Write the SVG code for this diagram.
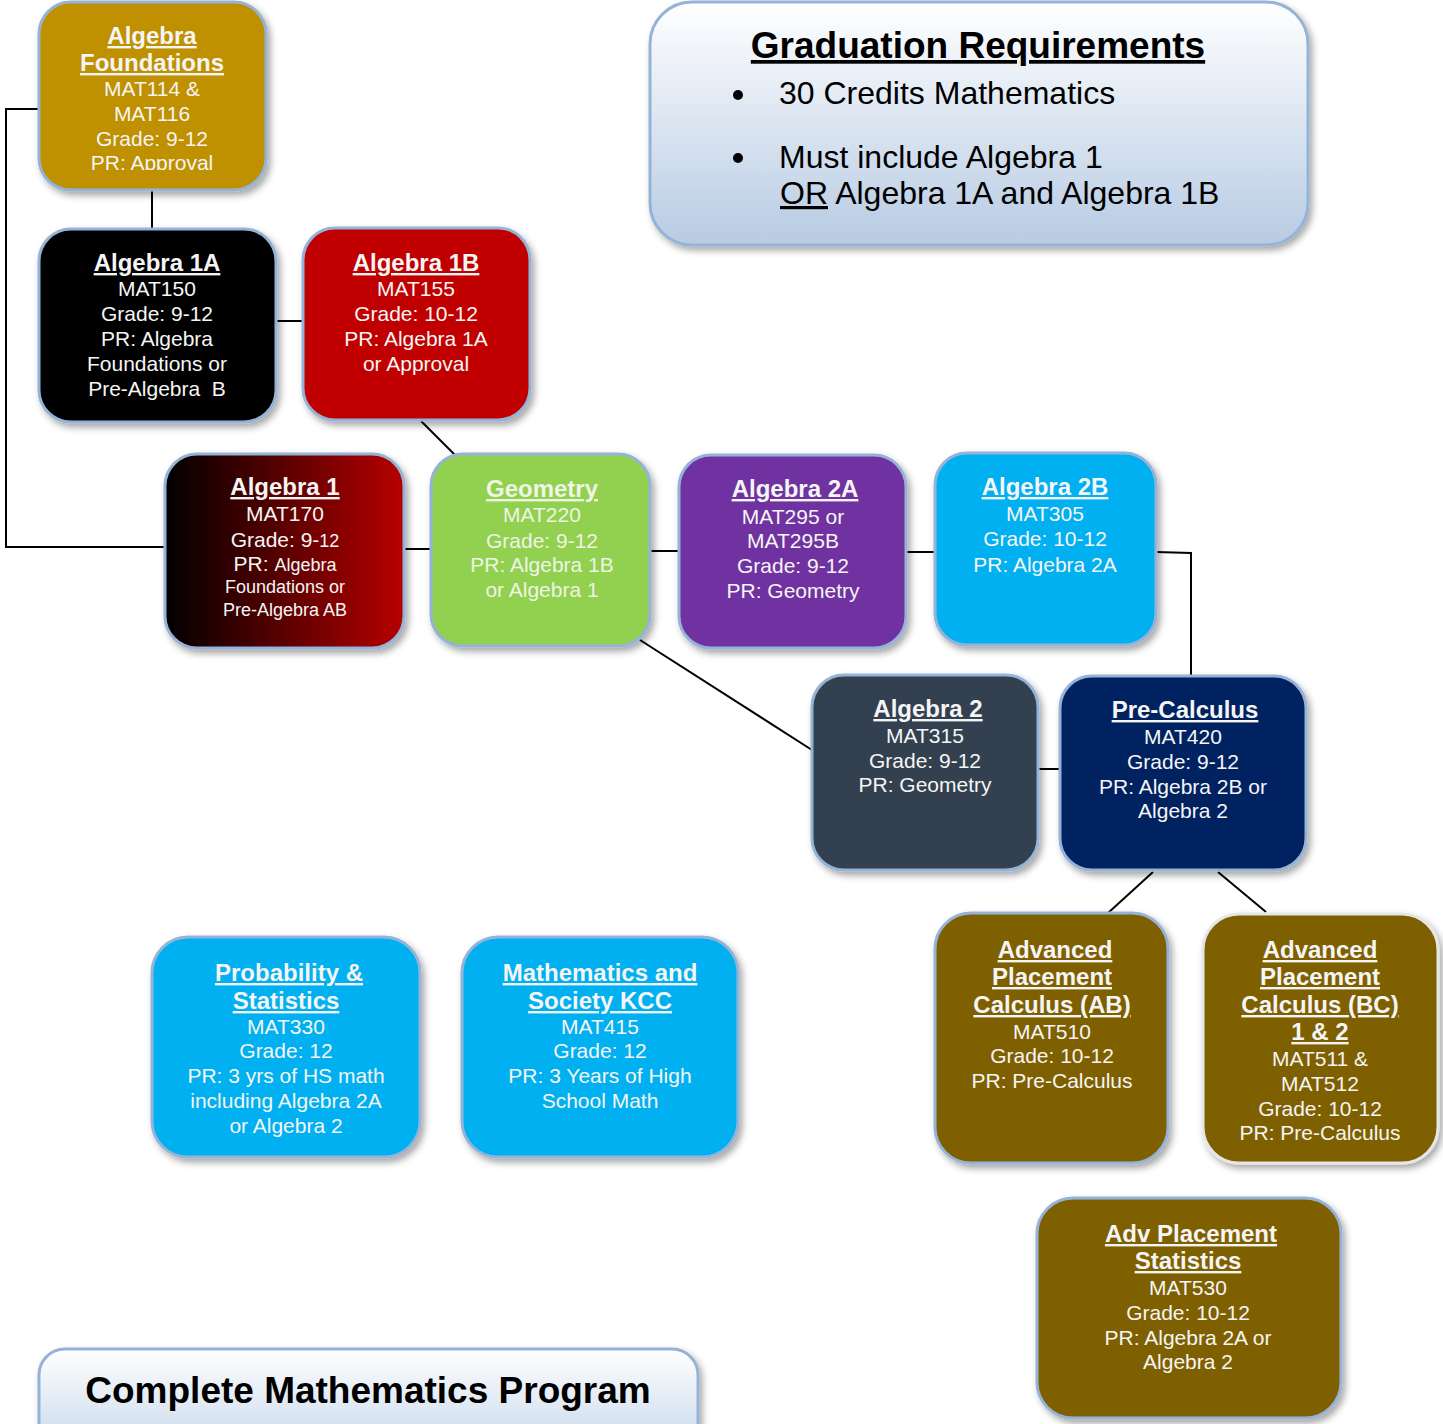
<svg xmlns="http://www.w3.org/2000/svg" width="1443" height="1424" viewBox="0 0 1443 1424">
<defs>
<filter id="sh" x="-10%" y="-10%" width="125%" height="130%">
<feDropShadow dx="3" dy="4" stdDeviation="3.5" flood-color="#000" flood-opacity="0.35"/>
</filter>
<linearGradient id="g1" x1="0" y1="0" x2="1" y2="0">
<stop offset="0" stop-color="#000000"/>
<stop offset="1" stop-color="#B70000"/>
</linearGradient>
<linearGradient id="gr" x1="0" y1="0" x2="0" y2="1">
<stop offset="0" stop-color="#FFFFFF"/>
<stop offset="1" stop-color="#B7CBE3"/>
</linearGradient>
<linearGradient id="gc" x1="0" y1="0" x2="0" y2="1">
<stop offset="0" stop-color="#FFFFFF"/>
<stop offset="1" stop-color="#C3D4E9"/>
</linearGradient>
<clipPath id="afclip"><rect x="39" y="0" width="228" height="170"/></clipPath>
<style>
.box{stroke:#95B3D7;stroke-width:3;filter:url(#sh)}
.t{font-family:"Liberation Sans",Arial,sans-serif;font-weight:bold;font-size:24px;fill:#F5F5F5;text-anchor:middle;text-decoration:underline}
.b{font-family:"Liberation Sans",Arial,sans-serif;font-size:21px;fill:#F5F5F5;text-anchor:middle}
.s{font-size:18px}
.geo{fill:#EEF5E4}
.con{stroke:#000;stroke-width:2;fill:none}
.k{font-family:"Liberation Sans",Arial,sans-serif;fill:#000}
</style>
</defs>

<g id="connectors">
<polyline class="con" points="39,109 6,109 6,547 165,547"/>
<line class="con" x1="152" y1="190" x2="152" y2="229"/>
<line class="con" x1="276" y1="321" x2="303" y2="321"/>
<line class="con" x1="421" y1="421" x2="455" y2="455"/>
<line class="con" x1="404" y1="549" x2="431" y2="549"/>
<line class="con" x1="650" y1="551" x2="679" y2="551"/>
<line class="con" x1="640" y1="640" x2="812" y2="750"/>
<line class="con" x1="906" y1="552" x2="935" y2="552"/>
<polyline class="con" points="1156,552 1191,553 1191,676"/>
<line class="con" x1="1038" y1="769" x2="1060" y2="769"/>
<line class="con" x1="1153" y1="872" x2="1108" y2="913"/>
<line class="con" x1="1218" y1="872" x2="1266" y2="912"/>
</g>

<g id="grad-req">
<rect class="box" x="650" y="2" width="658" height="243" rx="42" fill="url(#gr)"/>
<text class="k" x="978" y="58" font-size="37" font-weight="bold" text-anchor="middle" text-decoration="underline">Graduation Requirements</text>
<circle cx="738" cy="95" r="5" fill="#000"/>
<text class="k" x="779" y="104" font-size="32">30 Credits Mathematics</text>
<circle cx="738" cy="158" r="5" fill="#000"/>
<text class="k" x="779" y="168" font-size="32">Must include Algebra 1</text>
<text class="k" x="780" y="204" font-size="32"><tspan text-decoration="underline">OR</tspan> Algebra 1A and Algebra 1B</text>
</g>

<g id="algebra-foundations">
<rect class="box" x="39" y="2" width="227" height="188" rx="32" fill="#BF9000"/>
<g clip-path="url(#afclip)">
<text class="t" x="152" y="44">Algebra</text>
<text class="t" x="152" y="71">Foundations</text>
<text class="b" x="152" y="96">MAT114 &amp;</text>
<text class="b" x="152" y="121">MAT116</text>
<text class="b" x="152" y="146">Grade: 9-12</text>
<text class="b" x="152" y="170">PR: Approval</text>
</g>
</g>

<g id="algebra-1a">
<rect class="box" x="39" y="229" width="237" height="193" rx="32" fill="#000000"/>
<text class="t" x="157" y="271">Algebra 1A</text>
<text class="b" x="157" y="296">MAT150</text>
<text class="b" x="157" y="321">Grade: 9-12</text>
<text class="b" x="157" y="346">PR: Algebra</text>
<text class="b" x="157" y="371">Foundations or</text>
<text class="b" x="157" y="396" xml:space="preserve">Pre-Algebra  B</text>
</g>

<g id="algebra-1b">
<rect class="box" x="303" y="228" width="227" height="192" rx="32" fill="#C00000"/>
<text class="t" x="416" y="271">Algebra 1B</text>
<text class="b" x="416" y="296">MAT155</text>
<text class="b" x="416" y="321">Grade: 10-12</text>
<text class="b" x="416" y="346">PR: Algebra 1A</text>
<text class="b" x="416" y="371">or Approval</text>
</g>

<g id="algebra-1">
<rect class="box" x="165" y="454" width="239" height="194" rx="32" fill="url(#g1)"/>
<text class="t" x="285" y="495">Algebra 1</text>
<text class="b" x="285" y="521">MAT170</text>
<text class="b" x="285" y="547">Grade: 9-<tspan class="s">12</tspan></text>
<text class="b" x="285" y="571">PR: <tspan class="s">Algebra</tspan></text>
<text class="b s" x="285" y="593">Foundations or</text>
<text class="b s" x="285" y="616">Pre-Algebra AB</text>
</g>

<g id="geometry">
<rect class="box" x="431" y="454" width="219" height="192" rx="32" fill="#92D050"/>
<text class="t geo" x="542" y="497">Geometry</text>
<text class="b geo" x="542" y="522">MAT220</text>
<text class="b geo" x="542" y="548">Grade: 9-12</text>
<text class="b geo" x="542" y="572">PR: Algebra 1B</text>
<text class="b geo" x="542" y="597">or Algebra 1</text>
</g>

<g id="algebra-2a">
<rect class="box" x="679" y="455" width="227" height="193" rx="32" fill="#7030A0"/>
<text class="t" x="795" y="497">Algebra 2A</text>
<text class="b" x="793" y="524">MAT295 or</text>
<text class="b" x="793" y="548">MAT295B</text>
<text class="b" x="793" y="573">Grade: 9-12</text>
<text class="b" x="793" y="598">PR: Geometry</text>
</g>

<g id="algebra-2b">
<rect class="box" x="935" y="453" width="221" height="192" rx="32" fill="#00B0F0"/>
<text class="t" x="1045" y="495">Algebra 2B</text>
<text class="b" x="1045" y="521">MAT305</text>
<text class="b" x="1045" y="546">Grade: 10-12</text>
<text class="b" x="1045" y="572">PR: Algebra 2A</text>
</g>

<g id="algebra-2">
<rect class="box" x="812" y="675" width="226" height="195" rx="32" fill="#323F4F"/>
<text class="t" x="928" y="717">Algebra 2</text>
<text class="b" x="925" y="743">MAT315</text>
<text class="b" x="925" y="768">Grade: 9-12</text>
<text class="b" x="925" y="792">PR: Geometry</text>
</g>

<g id="pre-calculus">
<rect class="box" x="1060" y="676" width="246" height="194" rx="32" fill="#002060"/>
<text class="t" x="1185" y="718">Pre-Calculus</text>
<text class="b" x="1183" y="744">MAT420</text>
<text class="b" x="1183" y="769">Grade: 9-12</text>
<text class="b" x="1183" y="794">PR: Algebra 2B or</text>
<text class="b" x="1183" y="818">Algebra 2</text>
</g>

<g id="ap-calculus-ab">
<rect class="box" x="935" y="913" width="233" height="250" rx="36" fill="#7F6000"/>
<text class="t" x="1055" y="958">Advanced</text>
<text class="t" x="1052" y="985">Placement</text>
<text class="t" x="1052" y="1013">Calculus (AB)</text>
<text class="b" x="1052" y="1039">MAT510</text>
<text class="b" x="1052" y="1063">Grade: 10-12</text>
<text class="b" x="1052" y="1088">PR: Pre-Calculus</text>
</g>

<g id="ap-calculus-bc">
<rect class="box" x="1203" y="914" width="235" height="249" rx="36" fill="#7F6000" style="stroke:#E6E6E6"/>
<text class="t" x="1320" y="958">Advanced</text>
<text class="t" x="1320" y="985">Placement</text>
<text class="t" x="1320" y="1013">Calculus (BC)</text>
<text class="t" x="1320" y="1040">1 &amp; 2</text>
<text class="b" x="1320" y="1066">MAT511 &amp;</text>
<text class="b" x="1320" y="1091">MAT512</text>
<text class="b" x="1320" y="1116">Grade: 10-12</text>
<text class="b" x="1320" y="1140">PR: Pre-Calculus</text>
</g>

<g id="probability-statistics">
<rect class="box" x="152" y="937" width="268" height="220" rx="36" fill="#00B0F0"/>
<text class="t" x="289" y="981">Probability &amp;</text>
<text class="t" x="286" y="1009">Statistics</text>
<text class="b" x="286" y="1034">MAT330</text>
<text class="b" x="286" y="1058">Grade: 12</text>
<text class="b" x="286" y="1083">PR: 3 yrs of HS math</text>
<text class="b" x="286" y="1108">including Algebra 2A</text>
<text class="b" x="286" y="1133">or Algebra 2</text>
</g>

<g id="math-society">
<rect class="box" x="462" y="937" width="276" height="220" rx="36" fill="#00B0F0"/>
<text class="t" x="600" y="981">Mathematics and</text>
<text class="t" x="600" y="1009">Society KCC</text>
<text class="b" x="600" y="1034">MAT415</text>
<text class="b" x="600" y="1058">Grade: 12</text>
<text class="b" x="600" y="1083">PR: 3 Years of High</text>
<text class="b" x="600" y="1108">School Math</text>
</g>

<g id="ap-statistics">
<rect class="box" x="1037" y="1198" width="304" height="220" rx="36" fill="#7F6000"/>
<text class="t" x="1191" y="1242">Adv Placement</text>
<text class="t" x="1188" y="1269">Statistics</text>
<text class="b" x="1188" y="1295">MAT530</text>
<text class="b" x="1188" y="1320">Grade: 10-12</text>
<text class="b" x="1188" y="1345">PR: Algebra 2A or</text>
<text class="b" x="1188" y="1369">Algebra 2</text>
</g>

<g id="program-title">
<rect class="box" x="39" y="1349" width="659" height="110" rx="26" fill="url(#gc)"/>
<text class="k" x="368" y="1403" font-size="37" font-weight="bold" text-anchor="middle">Complete Mathematics Program</text>
</g>
</svg>
